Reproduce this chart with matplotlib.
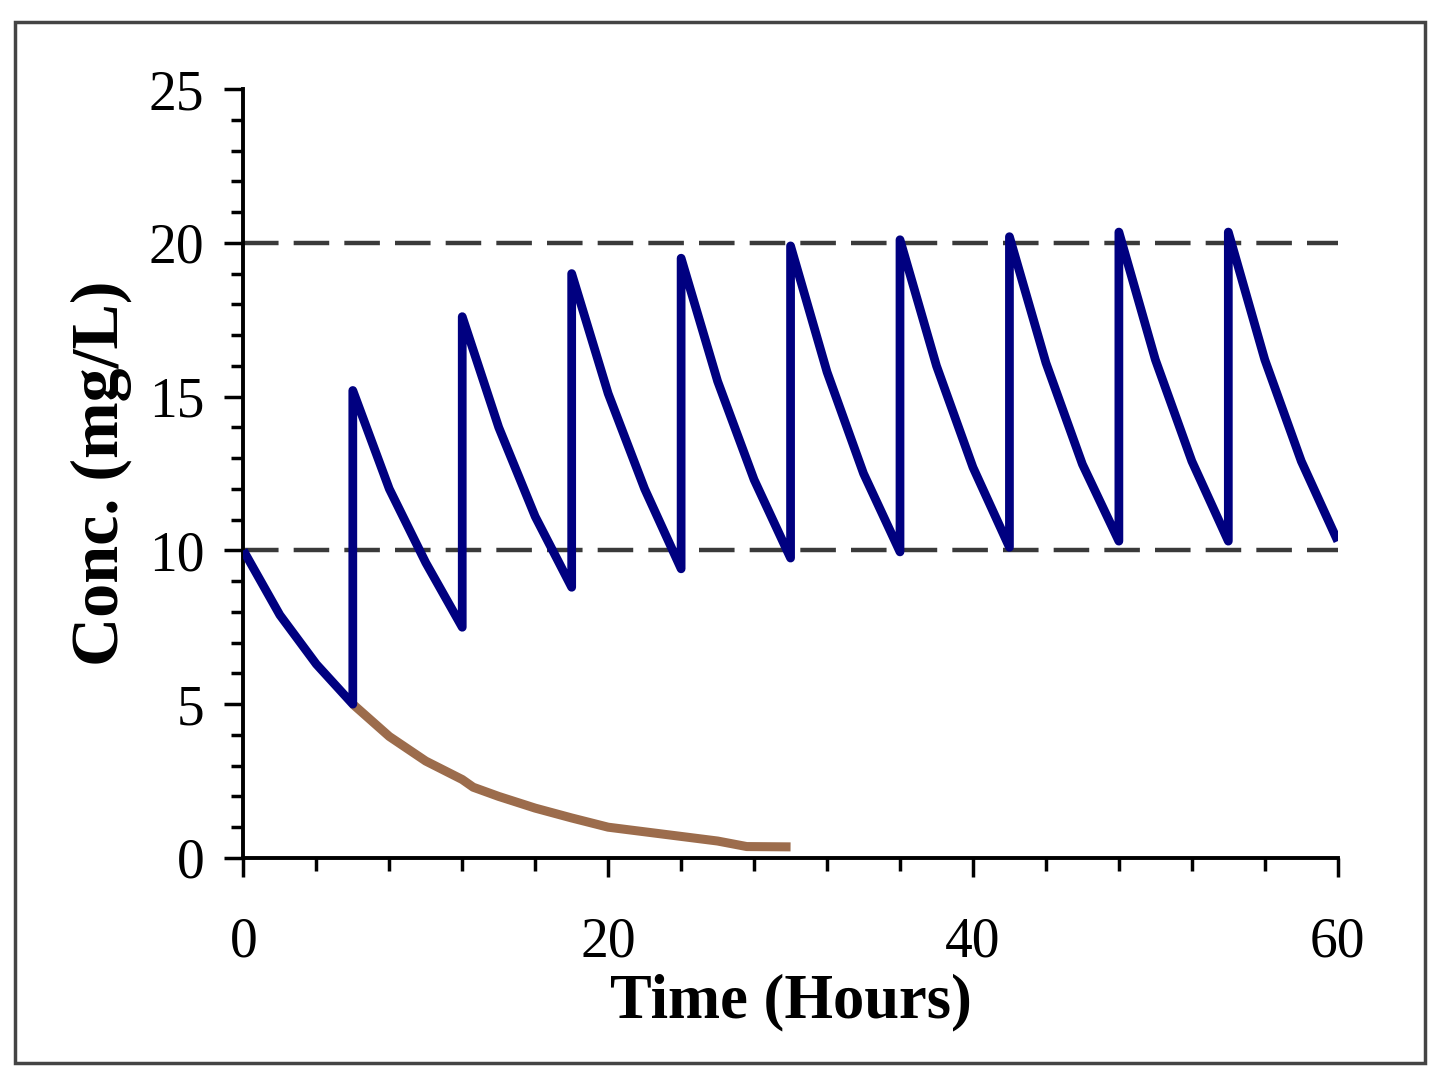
import matplotlib as mpl
import matplotlib.pyplot as plt
from matplotlib.ticker import MultipleLocator
from matplotlib.patches import Rectangle

mpl.use('Agg')

# dosing curve, every 2 hours, repeated time at each dose
tempo_dose = [0, 2, 4, 6,
              6, 8, 10, 12,
              12, 14, 16, 18,
              18, 20, 22, 24,
              24, 26, 28, 30,
              30, 32, 34, 36,
              36, 38, 40, 42,
              42, 44, 46, 48,
              48, 50, 52, 54,
              54, 56, 58, 60]
conc_dose = [10.0, 7.9, 6.3, 5.0,
             15.2, 12.0, 9.6, 7.5,
             17.6, 14.0, 11.1, 8.8,
             19.0, 15.1, 12.0, 9.4,
             19.5, 15.5, 12.3, 9.75,
             19.9, 15.8, 12.5, 9.95,
             20.1, 16.0, 12.7, 10.1,
             20.2, 16.1, 12.8, 10.3,
             20.35, 16.2, 12.9, 10.3,
             20.35, 16.2, 12.9, 10.3]

# decay without further doses
tempo_sem = [6, 8, 10, 12, 12.6, 14, 16, 18, 20, 22, 24, 26, 27.6, 30]
conc_sem = [5.0, 3.95, 3.15, 2.55, 2.3, 2.0, 1.62, 1.3, 1.0, 0.85, 0.7, 0.55, 0.37, 0.36]

limites = [10, 20]

plt.rcParams['font.family'] = ['Liberation Serif', 'DejaVu Serif']

fig = plt.figure(figsize=(14.4, 10.86), dpi=100)
ax = fig.add_axes([0.169, 0.210, 0.760, 0.708])

for lim in limites:
    ax.plot([0, 60], [lim, lim], color='#3a3a3a', lw=3.2,
            dashes=(8, 3.4), zorder=1)

ax.plot(tempo_sem, conc_sem, color='#9c6c4c', lw=6.5, zorder=2,
        solid_capstyle='butt')
ax.plot(tempo_dose, conc_dose, color='#000080', lw=6.3, zorder=3,
        solid_capstyle='butt')

ax.set_xlim(0, 60)
ax.set_ylim(0, 25)
ax.xaxis.set_major_locator(MultipleLocator(20))
ax.xaxis.set_minor_locator(MultipleLocator(4))
ax.yaxis.set_major_locator(MultipleLocator(5))
ax.yaxis.set_minor_locator(MultipleLocator(1))

for s in ['top', 'right']:
    ax.spines[s].set_visible(False)
for s in ['left', 'bottom']:
    ax.spines[s].set_linewidth(2.8)
    ax.spines[s].set_color('black')

ax.tick_params(axis='both', which='major', direction='out', length=14,
               width=2.5, labelsize=40)
ax.tick_params(axis='both', which='minor', direction='out', length=9,
               width=2.5)
ax.tick_params(axis='x', which='major', pad=28)
ax.tick_params(axis='y', which='major', pad=14)

ax.set_xlabel('Time (Hours)', fontsize=45, fontweight='bold', labelpad=4)
ax.set_ylabel('Conc. (mg/L)', fontsize=49, fontweight='bold', labelpad=12)

fig.patches.append(Rectangle((15 / 1440, 1 - 1063 / 1086), 1410 / 1440, 1041 / 1086,
                             transform=fig.transFigure, fill=False,
                             edgecolor='#444444', lw=2.5))

plt.savefig('out.png', dpi=100)
